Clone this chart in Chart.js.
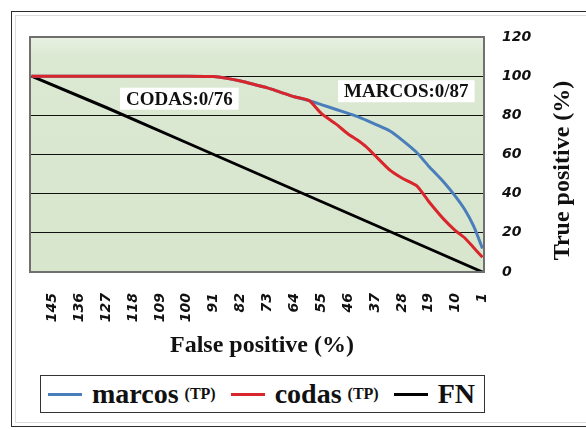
<!DOCTYPE html>
<html>
<head>
<meta charset="utf-8">
<script src="https://cdn.jsdelivr.net/npm/chart.js@4.4.1/dist/chart.umd.min.js"></script>
<style>
  html, body { margin: 0; padding: 0; background: #fff; overflow: hidden; }
  #page { position: relative; width: 586px; height: 430px; overflow: hidden; }
  #frame {
    position: absolute; left: 11px; top: 11px; width: 600px; height: 414px;
    border: 1.5px solid #2b2b2b;
    box-shadow: inset 0 0 0 3px #fff, inset 0 0 0 4px #dcdcdc;
  }
  canvas { position: absolute; left: 0; top: 0; }
  #legend {
    position: absolute; left: 40px; top: 375px; width: 445px; height: 38px;
    box-sizing: border-box; border: 1.5px solid #333; background: #fff;
    display: flex; align-items: center; padding-left: 7px;
    font-family: "Liberation Serif", "Times New Roman", serif; font-weight: bold; color: #111;
  }
  .item { display: flex; align-items: center; margin-right: 15px; }
  .sw { width: 34px; height: 3px; margin-right: 10px; }
  .name { font-size: 28px; line-height: 1; }
  .sub { font-size: 16px; margin-left: 6px; }
</style>
</head>
<body>
<div id="page">
  <div id="frame"></div>
  <canvas id="rocChart" width="586" height="430"></canvas>
  <div id="legend"></div>
</div>
<script>
// false positive positions (x) shared by the two TP curves
const fpGrid = [152, 145, 136, 127, 118, 109, 100, 91, 87, 82, 78, 73, 69, 64, 59,
                55, 50, 46, 43, 40, 37, 32, 28, 23, 19, 14, 10, 7, 4, 1];
const marcosTP = [100, 100, 100, 100, 100, 100, 100, 99.8, 99, 97.5, 96, 94, 92, 89.5, 87.5,
                  85.5, 83, 81, 79.5, 77.5, 75.5, 72, 67.5, 61, 54, 46, 38.5, 32, 23.5, 12];
const codasTP = [100, 100, 100, 100, 100, 100, 100, 99.8, 99, 97.5, 96, 94, 92, 89.5, 87.5,
                 81, 75.5, 70.5, 67.5, 64, 59.5, 52, 48, 44, 36, 27, 21, 17.5, 12.5, 7.5];
const fnX = [152, 127, 100, 73, 46, 19, 1];
const fnY = [100, 84, 66, 48, 30, 12, 0];

const xTickLabels = [145, 136, 127, 118, 109, 100, 91, 82, 73, 64, 55, 46, 37, 28, 19, 10, 1];
const yTickLabels = [0, 20, 40, 60, 80, 100, 120];

const seriesNames = ["marcos", "codas", "FN"];
const seriesSubs = ["(TP)", "(TP)", ""];
const seriesColors = ["#4a7ebb", "#d8262c", "#000000"];

const notes = [
    { text: "CODAS:0/76", x: 102.5, y: 88.5 },
    { text: "MARCOS:0/87", x: 26.5, y: 92.3 }
];

const toPoints = (xs, ys) => xs.map((x, i) => ({ x: x, y: ys[i] }));

const serif = '"Liberation Serif", "Times New Roman", serif';
const sans = '"DejaVu Sans", Verdana, sans-serif';

// plot background, frame, notes and axis titles
const plotBox = {
    id: "plotBox",
    beforeDraw(chart) {
        const { ctx, chartArea: a } = chart;
        ctx.save();
        const g = ctx.createLinearGradient(0, a.top, 0, a.bottom);
        g.addColorStop(0, "#e9f1e3");
        g.addColorStop(0.08, "#dbe8d2");
        g.addColorStop(1, "#d8e6ce");
        ctx.fillStyle = g;
        ctx.fillRect(a.left, a.top, a.width, a.height);
        ctx.restore();
    },
    afterDraw(chart) {
        const { ctx, chartArea: a, scales } = chart;
        ctx.save();
        ctx.strokeStyle = "#707070";
        ctx.lineWidth = 2;
        ctx.strokeRect(a.left, a.top, a.width, a.height);

        ctx.font = "bold 19px " + serif;
        ctx.textAlign = "center";
        ctx.textBaseline = "middle";
        notes.forEach(n => {
            const cx = scales.x.getPixelForValue(n.x);
            const cy = scales.y.getPixelForValue(n.y);
            const w = ctx.measureText(n.text).width + 12;
            ctx.fillStyle = "#fff";
            ctx.fillRect(cx - w / 2, cy - 11, w, 22);
            ctx.fillStyle = "#111";
            ctx.fillText(n.text, cx, cy + 1);
        });

        ctx.font = "bold 24px " + serif;
        ctx.fillText("False positive (%)", (a.left + a.right) / 2 + 5, 346);
        ctx.font = "bold 24px " + serif;
        ctx.translate(563, (a.top + a.bottom) / 2 + 16);
        ctx.rotate(-Math.PI / 2);
        ctx.fillText("True positive (%)", 0, 0);
        ctx.restore();
    }
};

new Chart(document.getElementById("rocChart"), {
    type: "line",
    data: {
        datasets: [{
            label: "marcos (TP)",
            data: toPoints(fpGrid, marcosTP),
            borderColor: seriesColors[0],
            borderWidth: 3,
            pointRadius: 0,
            tension: 0.2,
            order: 1
        }, {
            label: "codas (TP)",
            data: toPoints(fpGrid, codasTP),
            borderColor: seriesColors[1],
            borderWidth: 3,
            pointRadius: 0,
            tension: 0.2,
            order: 0
        }, {
            label: "FN",
            data: toPoints(fnX, fnY),
            borderColor: seriesColors[2],
            borderWidth: 3,
            pointRadius: 0,
            tension: 0,
            order: 2
        }]
    },
    options: {
        responsive: false,
        animation: false,
        layout: { padding: { left: 30, top: 37, right: 0, bottom: 0 } },
        plugins: {
            legend: { display: false },
            tooltip: { enabled: false }
        },
        scales: {
            x: {
                type: "linear",
                reverse: true,
                min: 0.5,
                max: 152.5,
                grid: { display: false },
                border: { display: false },
                afterBuildTicks: scale => {
                    scale.ticks = xTickLabels.map(v => ({ value: v }));
                },
                afterFit: scale => { scale.height = 158; },
                ticks: {
                    autoSkip: false,
                    minRotation: 90,
                    maxRotation: 90,
                    padding: 13,
                    color: "#111",
                    font: { family: sans, size: 14, weight: "bold", style: "italic" }
                }
            },
            y: {
                position: "right",
                min: 0,
                max: 120,
                afterBuildTicks: scale => {
                    scale.ticks = yTickLabels.map(v => ({ value: v }));
                },
                afterFit: scale => { scale.width = 102; },
                grid: {
                    drawTicks: false,
                    lineWidth: 1,
                    color: c => (c.tick && c.tick.value > 0 && c.tick.value < 120) ? "#111" : "rgba(0,0,0,0)"
                },
                border: { display: false },
                ticks: {
                    padding: 18,
                    color: "#111",
                    font: { family: sans, size: 14, weight: "bold", style: "italic" }
                }
            }
        }
    },
    plugins: [plotBox]
});

// legend built from the series lists
const legendEl = document.getElementById("legend");
seriesNames.forEach((name, i) => {
    const item = document.createElement("div");
    item.className = "item";
    item.innerHTML = '<span class="sw" style="background:' + seriesColors[i] + '"></span>' +
        '<span class="name">' + name + '</span>' +
        (seriesSubs[i] ? '<span class="sub">' + seriesSubs[i] + '</span>' : '');
    legendEl.appendChild(item);
});
</script>
</body>
</html>
